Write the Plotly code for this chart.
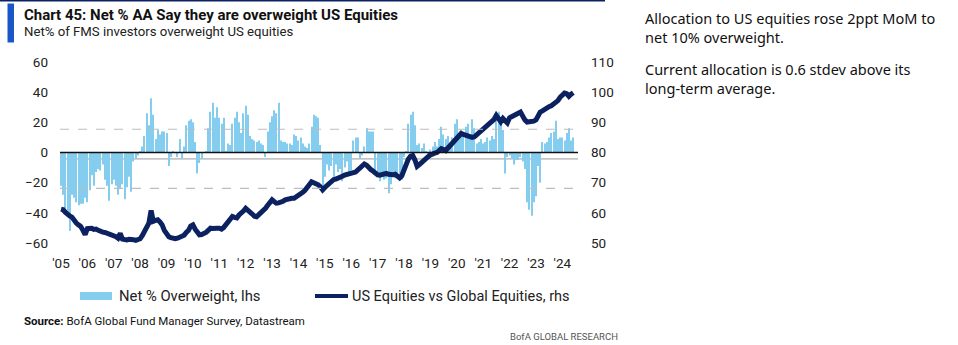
import pandas as pd
import plotly.graph_objects as go

# ---- Net % of FMS investors overweight US equities (monthly, lhs) ----
net_ow = {
    2005: [-22, -28, -37, -42, -52, -28, -30, -33, -35, -34, -34, -30],
    2006: [-33, -25, -15, -22, -13, -11, -12, -8, -18, -22, -32, -21],
    2007: [-18, -22, -28, -24, -21, -31, -23, -16, -26, -6, -4, -2],
    2008: [1, 4, 11, 26, 18, 36, 25, 9, 15, 12, 14, 14],
    2009: [13, -9, -3, 1, 0, -3, 9, -4, 4, 18, 21, 22],
    2010: [20, 7, -14, -7, -4, 0, 1, 16, 27, 33, 23, 30],
    2011: [23, 19, 23, 1, 6, 5, 19, 23, 27, 20, 13, 26],
    2012: [31, 25, 11, 9, 8, 7, 8, 6, 5, -3, 14, 20],
    2013: [24, 28, 26, 33, 8, 7, 7, 6, 6, 5, 12, 11],
    2014: [8, 10, 6, 4, 3, 6, 17, 25, 24, 23, 5, -22],
    2015: [-16, -8, -12, -9, -18, -8, -13, -11, -19, -10, -6, -15],
    2016: [-12, 8, 10, 10, -4, -2, 4, 16, 14, 14, 14, -12],
    2017: [-14, -19, -16, -18, -17, -27, -21, -15, -17, -14, -16, -18],
    2018: [-3, 1, 19, 25, 27, 18, 5, 6, 3, 6, 1, -2],
    2019: [2, 4, 7, 4, 9, 17, 12, 9, 11, 4, 10, 19],
    2020: [22, 12, 15, 13, 17, 19, 11, 22, 16, 6, 7, 9],
    2021: [6, 7, 10, 8, 11, 9, 24, 27, 21, 15, -14, -3],
    2022: [-2, -4, -8, -5, -5, -3, -6, -11, -33, -38, -42, -33],
    2023: [-29, -9, -20, 7, 6, 7, 10, 13, 14, 21, 9, 10],
    2024: [10, 8, 13, 16, 8, 10],
}

# ---- US equities vs global equities relative index (monthly, rhs) ----
us_vs_global = {
    2005: [61.2, 61.0, 60.2, 59.4, 59.0, 58.6, 57.2, 56.6, 56.0, 55.5, 54.2, 52.8],
    2006: [54.8, 55.0, 54.9, 54.5, 54.6, 54.2, 53.8, 53.6, 53.5, 53.3, 53.1, 52.9],
    2007: [52.6, 52.1, 51.6, 53.2, 51.3, 51.1, 51.0, 51.2, 51.3, 51.1, 50.9, 51.3],
    2008: [51.4, 52.5, 53.8, 55.9, 56.6, 60.8, 57.2, 57.5, 57.7, 57.0, 56.0, 54.2],
    2009: [53.0, 52.1, 51.8, 51.4, 51.4, 51.6, 52.0, 52.0, 52.6, 53.5, 54.2, 55.6],
    2010: [56.0, 54.6, 53.5, 52.7, 52.8, 53.0, 53.5, 54.2, 54.9, 54.8, 55.0, 54.9],
    2011: [54.9, 54.6, 55.1, 56.0, 57.1, 58.2, 58.8, 58.5, 58.3, 59.3, 60.3, 60.6],
    2012: [61.5, 61.0, 60.4, 59.6, 58.9, 58.7, 59.4, 60.0, 61.0, 61.5, 62.5, 63.5],
    2013: [64.3, 63.7, 63.2, 63.3, 63.4, 63.8, 64.3, 64.6, 64.8, 64.8, 64.8, 65.3],
    2014: [65.6, 66.0, 66.8, 67.5, 68.3, 69.3, 70.3, 70.0, 69.8, 69.3, 68.6, 67.6],
    2015: [68.4, 69.2, 70.0, 70.8, 71.0, 71.2, 71.4, 71.7, 72.1, 72.5, 72.8, 73.0],
    2016: [73.1, 73.3, 73.5, 74.2, 75.0, 75.8, 76.2, 75.8, 74.9, 74.3, 73.8, 73.2],
    2017: [72.6, 72.5, 72.7, 73.0, 73.1, 72.8, 72.5, 72.6, 72.8, 72.3, 71.6, 72.3],
    2018: [74.5, 76.5, 77.8, 78.8, 79.0, 77.5, 75.4, 76.0, 76.8, 77.3, 77.8, 78.6],
    2019: [79.2, 79.7, 79.8, 80.0, 80.8, 81.3, 81.0, 80.6, 81.5, 82.4, 83.2, 83.8],
    2020: [84.8, 85.8, 86.3, 86.0, 85.7, 85.4, 85.1, 85.0, 85.2, 85.8, 86.4, 86.9],
    2021: [87.5, 88.4, 89.0, 89.6, 90.4, 91.0, 92.3, 91.0, 90.2, 91.3, 90.5, 89.8],
    2022: [91.5, 92.0, 92.2, 92.6, 93.0, 93.4, 92.0, 90.8, 90.1, 90.1, 90.1, 90.4],
    2023: [90.8, 92.3, 93.4, 93.8, 94.4, 94.8, 95.2, 95.5, 96.0, 96.8, 97.2, 98.3],
    2024: [99.2, 99.7, 99.5, 98.6, 99.3, 99.8],
}

# Long-term average and +/- 1 standard deviation of the net overweight series
ow_average = -4.2
ow_plus_1sd = 15.4
ow_minus_1sd = -23.8

left_ticks = [-60, -40, -20, 0, 20, 40, 60]
right_ticks = [50, 60, 70, 80, 90, 100, 110]

# ---- flatten into monthly series ----
dates, ow_vals, rel_vals = [], [], []
for yr in net_ow:
    for m, v in enumerate(net_ow[yr]):
        dates.append(pd.Timestamp(year=yr, month=m + 1, day=1))
        ow_vals.append(v)
        rel_vals.append(us_vs_global[yr][m])

BAR_BLUE = "#84cdef"
NAVY = "#0c2160"
TITLE_BLUE = "#1a56c8"
FONT = "Roboto, Arial, sans-serif"
TEXT = "#222222"

W, H = 958, 345
L, R, T, B = 60, 380, 62, 102
PW, PH = W - L - R, H - T - B


def px(x):
    return (x - L) / PW


def py(y):
    return (H - B - y) / PH


fig = go.Figure()

fig.add_trace(go.Bar(
    x=dates, y=ow_vals, name="Net % Overweight, lhs",
    marker=dict(color=BAR_BLUE, line=dict(width=0)),
    yaxis="y", showlegend=False,
))
fig.add_trace(go.Scatter(
    x=dates, y=rel_vals, name="US Equities vs Global Equities, rhs",
    mode="lines", line=dict(color=NAVY, width=5),
    yaxis="y2", showlegend=False,
))

shapes = [
    # reference lines on the lhs scale
    dict(type="line", xref="paper", x0=0, x1=1, yref="y", y0=ow_plus_1sd, y1=ow_plus_1sd,
         line=dict(color="#bdbdbd", width=1.2, dash="dash"), layer="above"),
    dict(type="line", xref="paper", x0=0, x1=1, yref="y", y0=ow_minus_1sd, y1=ow_minus_1sd,
         line=dict(color="#bdbdbd", width=1.2, dash="dash"), layer="above"),
    dict(type="line", xref="paper", x0=0, x1=1, yref="y", y0=ow_average, y1=ow_average,
         line=dict(color="#c4c4c4", width=1.6), layer="below"),
    dict(type="line", xref="paper", x0=0, x1=1, yref="y", y0=0, y1=0,
         line=dict(color="#111111", width=1.6), layer="above"),
    # header rule and title accent
    dict(type="line", xref="paper", yref="paper", x0=px(0), x1=px(605), y0=py(0.8), y1=py(0.8),
         line=dict(color=NAVY, width=1.6)),
    dict(type="rect", xref="paper", yref="paper", x0=px(7.5), x1=px(14), y0=py(42.5), y1=py(3.5),
         fillcolor=TITLE_BLUE, line=dict(width=0)),
    # legend keys
    dict(type="rect", xref="paper", yref="paper", x0=px(80), x1=px(112), y0=py(300), y1=py(292),
         fillcolor=BAR_BLUE, line=dict(width=0)),
    dict(type="line", xref="paper", yref="paper", x0=px(315), x1=px(348), y0=py(296), y1=py(296),
         line=dict(color=NAVY, width=4)),
]

annotations = [
    dict(text="<b>Chart 45: Net % AA Say they are overweight US Equities</b>",
         x=px(22), y=py(15), xanchor="left", yanchor="middle",
         font=dict(family=FONT, size=15, color="#111111")),
    dict(text="Net% of FMS investors overweight US equities",
         x=px(22), y=py(32), xanchor="left", yanchor="middle",
         font=dict(family=FONT, size=13.2, color="#222222")),
    dict(text="Net % Overweight, lhs", x=px(117), y=py(296), xanchor="left", yanchor="middle",
         font=dict(family=FONT, size=14.8, color=TEXT)),
    dict(text="US Equities vs Global Equities, rhs", x=px(350), y=py(296), xanchor="left",
         yanchor="middle", font=dict(family=FONT, size=14.5, color=TEXT)),
    dict(text="<b>Source:</b> BofA Global Fund Manager Survey, Datastream",
         x=px(22), y=py(321), xanchor="left", yanchor="middle",
         font=dict(family=FONT, size=11.5, color="#111111")),
    dict(text="BofA GLOBAL RESEARCH", x=px(620), y=py(336), xanchor="right", yanchor="middle",
         font=dict(family=FONT, size=9.5, color="#555555")),
    dict(text="Allocation to US equities rose 2ppt MoM to<br>net 10% overweight.",
         x=px(643), y=py(6), xanchor="left", yanchor="top", align="left",
         font=dict(family="Noto Sans, sans-serif", size=14.5, color="#111111")),
    dict(text="Current allocation is 0.6 stdev above its<br>long-term average.",
         x=px(643), y=py(57), xanchor="left", yanchor="top", align="left",
         font=dict(family="Noto Sans, sans-serif", size=14.5, color="#111111")),
]
for a in annotations:
    a.update(xref="paper", yref="paper", showarrow=False)

fig.update_layout(
    width=W, height=H,
    margin=dict(l=L, r=R, t=T, b=B),
    paper_bgcolor="white", plot_bgcolor="white",
    bargap=0.5,
    showlegend=False,
    xaxis=dict(
        type="date", range=["2004-12-18", "2024-08-05"],
        tick0="2005-01-01", dtick="M12", tickformat="'%y",
        showgrid=False, zeroline=False, showline=False, ticks="",
        ticklabelstandoff=10,
        tickfont=dict(family=FONT, size=13.5, color=TEXT),
    ),
    yaxis=dict(
        range=[-60, 60], tickvals=left_ticks, showgrid=False, zeroline=False,
        showline=False, ticks="", ticklabelstandoff=11,
        tickfont=dict(family=FONT, size=13.5, color=TEXT),
    ),
    yaxis2=dict(
        range=[50, 110], tickvals=right_ticks, overlaying="y", side="right",
        showgrid=False, zeroline=False, showline=False, ticks="", ticklabelstandoff=12,
        tickfont=dict(family=FONT, size=13.5, color=TEXT),
    ),
    shapes=shapes,
    annotations=annotations,
)

fig.write_html("out.html")
